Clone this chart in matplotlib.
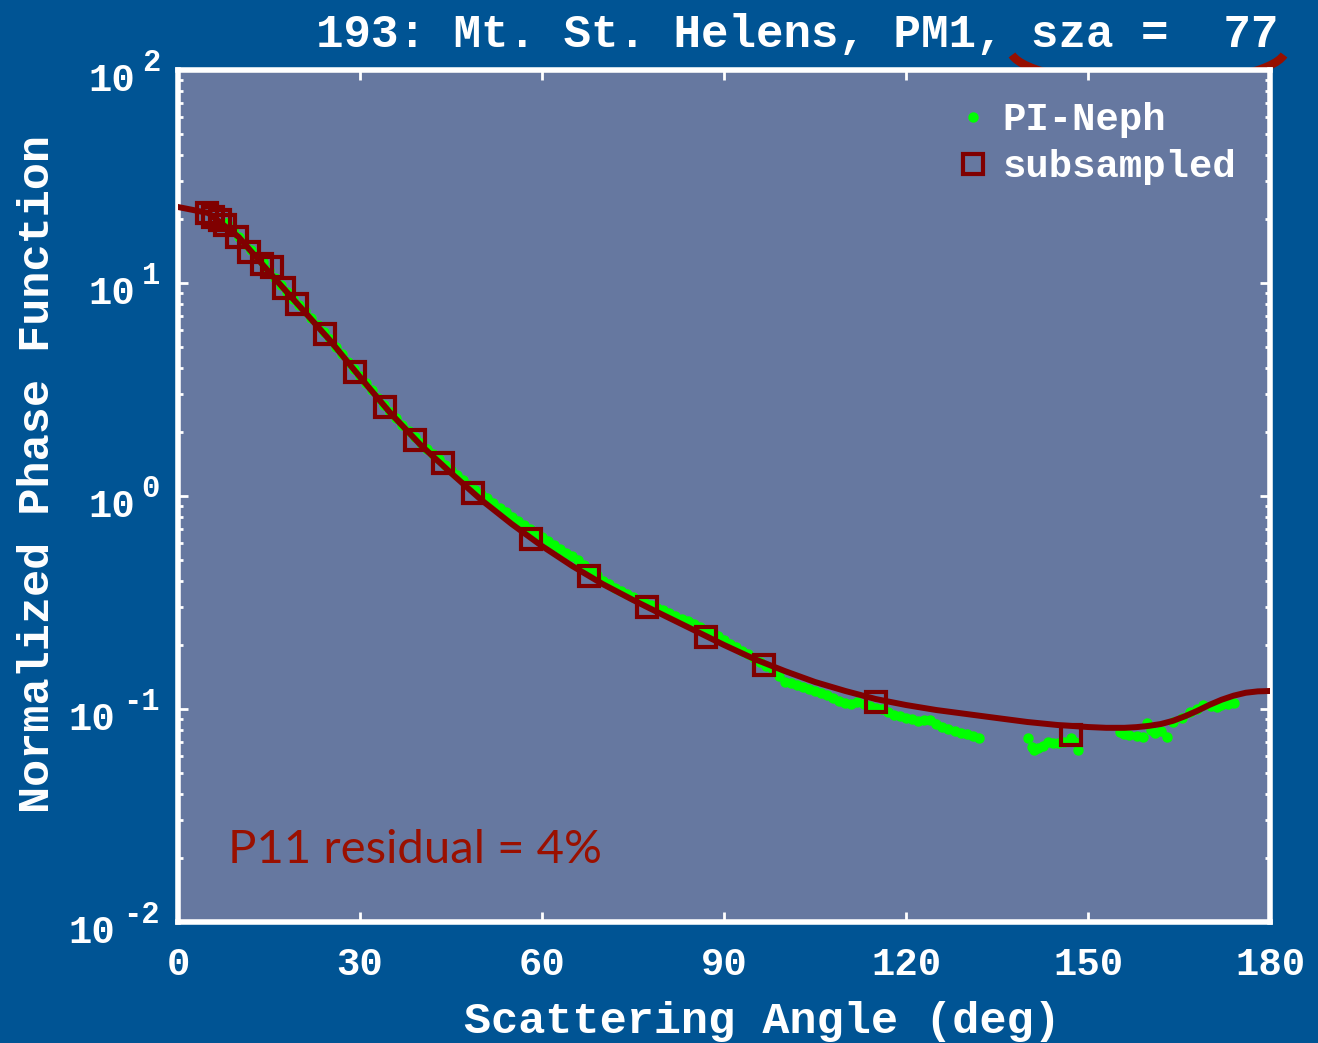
import matplotlib
matplotlib.use("Agg")
import matplotlib.pyplot as plt
from matplotlib.patches import Arc
from matplotlib.ticker import FixedLocator, LogLocator, NullFormatter

# measured phase function (PI-Neph): 8..132 deg every degree, then the back-scatter bits
neph_angle = list(range(8, 133)) + [
    140.1, 140.8, 141.1, 141.8, 142.5, 143.4, 144.2, 145, 146.1, 147.2, 147.8, 148.3,
    155.2, 156, 156.8, 158, 159, 159.8, 160.4, 161, 162, 163,
    164, 165.5, 166.8, 168, 169, 170.2, 171.3, 172, 173, 174]
neph_p11 = [
    19.13, 17.7, 16.44, 15.3, 14.29, 13.4, 12.55, 11.5, 10.56, 9.8,        # 8-17
    9.07, 8.45, 7.88, 7.35, 6.85, 6.35, 5.89, 5.45, 5.01, 4.62,             # 18-27
    4.26, 3.95, 3.66, 3.39, 3.146, 2.90, 2.675, 2.49, 2.324, 2.16,          # 28-37
    2.02, 1.89, 1.774, 1.67, 1.575, 1.485, 1.398, 1.325, 1.255, 1.19,       # 38-47
    1.126, 1.072, 1.022, 0.975, 0.927, 0.883, 0.841, 0.80, 0.763, 0.73,     # 48-57
    0.700, 0.67, 0.642, 0.614, 0.589, 0.563, 0.540, 0.52, 0.5006, 0.476,    # 58-67
    0.4544, 0.425, 0.399, 0.385, 0.370, 0.358, 0.3467, 0.335, 0.325, 0.316, # 68-77
    0.3077, 0.2995, 0.2915, 0.282, 0.2733, 0.266, 0.2589, 0.25, 0.2427, 0.235,   # 78-87
    0.2275, 0.219, 0.2109, 0.203, 0.1954, 0.188, 0.1812, 0.174, 0.1663, 0.159,   # 88-97
    0.1525, 0.143, 0.1339, 0.133, 0.1297, 0.127, 0.1241, 0.121, 0.1189, 0.116,   # 98-107
    0.1126, 0.109, 0.1067, 0.106, 0.1079, 0.1055, 0.1038, 0.101, 0.0995, 0.097,  # 108-117
    0.0942, 0.0925, 0.0912, 0.0895, 0.0878, 0.0885, 0.0888, 0.085, 0.0823, 0.0805,  # 118-127
    0.0788, 0.0775, 0.0763, 0.0745, 0.0731,                                  # 128-132
    0.0731, 0.0665, 0.0642, 0.0655, 0.0670, 0.0700, 0.0690, 0.0692, 0.0700, 0.0731,
    0.0700, 0.0642,
    0.0780, 0.0765, 0.0755, 0.0748, 0.0739, 0.0860, 0.0800, 0.0772, 0.0790, 0.0739,
    0.0869, 0.0907, 0.0968, 0.1000, 0.1044, 0.1035, 0.1022, 0.1045, 0.1055, 0.1066]

# subsampled points
sub_angle = [4.8, 5.8, 6.9, 7.7, 9.7, 11.7, 13.8, 15.5, 17.5, 19.6, 24.2, 29.2,
             34.1, 39.1, 43.7, 48.7, 58.2, 67.7, 77.3, 87.0, 96.6, 115.0, 147.2]
sub_p11 = [21.3, 20.4, 19.8, 18.7, 16.4, 14.0, 12.3, 11.9, 9.47, 7.97, 5.76, 3.82,
           2.62, 1.83, 1.43, 1.03, 0.628, 0.421, 0.301, 0.218, 0.161, 0.108, 0.0755]

# fitted curve
fit_angle = [0, 5, 10, 15, 20, 25, 30, 35, 40, 45, 50, 55, 60, 65, 70, 75, 80, 85,
             90, 95, 100, 105, 110, 115, 120, 125, 130, 135, 140, 145, 150, 153,
             156, 158, 160, 162, 164, 166, 168, 170, 172, 174, 176, 178, 180]
fit_p11 = [22.74, 21.31, 16.44, 11.26, 7.80, 5.40, 3.62, 2.453, 1.735, 1.282,
           0.958, 0.739, 0.582, 0.469, 0.386, 0.325, 0.276, 0.235, 0.1998, 0.1717,
           0.1508, 0.1339, 0.1215, 0.1114, 0.1044, 0.0989, 0.0947, 0.0907, 0.0869,
           0.0841, 0.0823, 0.0816, 0.0816, 0.0822, 0.0833, 0.0850, 0.0880, 0.0925,
           0.0980, 0.1045, 0.1105, 0.1155, 0.1192, 0.1210, 0.1215]

x_ticks = [0, 30, 60, 90, 120, 150, 180]
decades = [-2, -1, 0, 1, 2]

mono = "Liberation Mono"
bg = "#005494"
panel = "#6678a0"
dark_red = "#800000"

fig = plt.figure(figsize=(13.18, 10.43), dpi=100, facecolor=bg)
ax = fig.add_axes([178 / 1318, 1 - 922 / 1043, 1092 / 1318, 852 / 1043])
ax.set_facecolor(panel)

# red arc peeking out above the frame (mostly hidden behind the axes)
arc = Arc((1148, 1043 - 49), 276, 70, theta1=182.5, theta2=357.5,
          transform=None, color="#960f00", lw=6, zorder=-1)
fig.add_artist(arc)

ax.plot(neph_angle, neph_p11, "o", color="#00ff00", ms=7.5, mec="none",
        label="PI-Neph", zorder=2)
ax.plot(fit_angle, fit_p11, "-", color=dark_red, lw=4.3, zorder=3)
ax.plot(sub_angle, sub_p11, "s", mfc="none", mec=dark_red, ms=15, mew=3,
        label="subsampled", zorder=4)

ax.set_yscale("log")
ax.set_xlim(0, 180)
ax.set_ylim(1e-2, 1e2)

for s in ax.spines.values():
    s.set_color("white")
    s.set_linewidth(4)

ax.xaxis.set_major_locator(FixedLocator(x_ticks))
ax.yaxis.set_major_locator(LogLocator(base=10, numticks=10))
ax.yaxis.set_minor_locator(LogLocator(base=10, subs=range(2, 10), numticks=10))
ax.yaxis.set_major_formatter(NullFormatter())
ax.yaxis.set_minor_formatter(NullFormatter())
ax.tick_params(which="both", direction="in", color="white", top=True, right=True)
ax.tick_params(which="major", length=7, width=2)
ax.tick_params(which="minor", length=3.6, width=2)
ax.tick_params(axis="x", labelsize=28, labelcolor="white", pad=18)
for t in ax.get_xticklabels():
    t.set_fontfamily(mono)
    t.set_fontweight("bold")

# y tick labels like 10^n
ytrans = ax.get_yaxis_transform()
for k in decades:
    e = str(k)
    ax.annotate(e, xy=(0, 10.0 ** k), xycoords=ytrans,
                xytext=(-13, 5), textcoords="offset points",
                ha="right", va="center", fontsize=22, color="white",
                family=mono, fontweight="bold", annotation_clip=False)
    dx = -31 if len(e) == 1 else -45.4
    ax.annotate("10", xy=(0, 10.0 ** k), xycoords=ytrans,
                xytext=(dx, -8), textcoords="offset points",
                ha="right", va="center", fontsize=28, color="white",
                family=mono, fontweight="bold", annotation_clip=False)

fig.text(1278 / 1318, 1 - 35 / 1043, "193: Mt. St. Helens, PM1, sza =  77",
         ha="right", va="center", fontsize=33, color="white",
         family=mono, fontweight="bold")
fig.text(762 / 1318, 1 - 1022 / 1043, "Scattering Angle (deg)",
         ha="center", va="center", fontsize=32.5, color="white",
         family=mono, fontweight="bold")
fig.text(38 / 1318, 1 - 474 / 1043, "Normalized Phase Function",
         ha="center", va="center", rotation=90, fontsize=32.5, color="white",
         family=mono, fontweight="bold")

ax.text(0.0458, 0.0845, "P11 residual = 4%", transform=ax.transAxes,
        ha="left", va="center", fontsize=34, color="#9a1000", family="Lato")

leg = ax.legend(loc="upper right", bbox_to_anchor=(0.969, 0.962), frameon=False,
                borderpad=0, borderaxespad=0, handlelength=0.6, handletextpad=0.45,
                labelspacing=0.28, prop={"family": mono, "weight": "bold", "size": 28})
for t in leg.get_texts():
    t.set_color("white")

fig.savefig("out.png", dpi=100, facecolor=bg)
